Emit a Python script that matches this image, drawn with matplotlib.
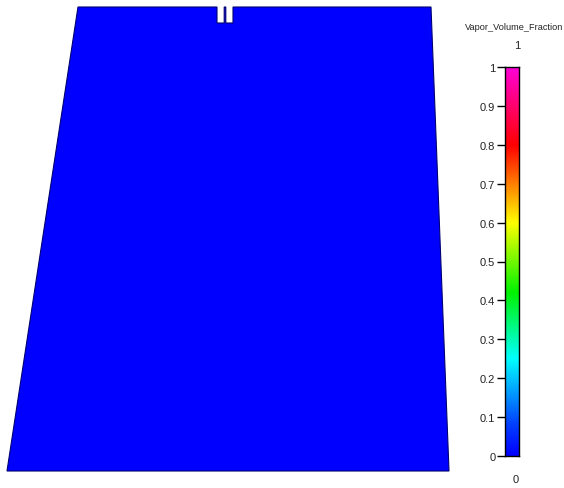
import numpy as np
import matplotlib
matplotlib.use("Agg")
import matplotlib.pyplot as plt
from matplotlib.colors import LinearSegmentedColormap, Normalize

# ---- data ----
field_name = "Vapor_Volume_Fraction"
field_value = 0.0            # vapor volume fraction everywhere in the domain
vmin, vmax = 0.0, 1.0
tick_values = [0, 0.1, 0.2, 0.3, 0.4, 0.5, 0.6, 0.7, 0.8, 0.9, 1]
tick_labels = ["0", "0.1", "0.2", "0.3", "0.4", "0.5", "0.6", "0.7", "0.8", "0.9", "1"]

# domain outline (tank cross-section, screen units)
domain_x = [7, 449, 431, 233, 233, 225.8, 225.8, 224.2, 224.2, 217, 217, 78, 7]
domain_y = [472, 472, 8, 8, 24, 24, 8, 8, 24, 24, 8, 8, 472]

# ---- colormap ----
cmap = LinearSegmentedColormap.from_list(
    "fluent_rainbow",
    [(0.00, (0.0, 0.0, 1.0)),
     (0.08, (0.0, 0.25, 1.0)),
     (0.25, (0.0, 1.0, 1.0)),
     (0.42, (0.0, 0.95, 0.0)),
     (0.60, (1.0, 1.0, 0.0)),
     (0.80, (1.0, 0.0, 0.0)),
     (1.00, (1.0, 0.0, 0.85))])
norm = Normalize(vmin, vmax)

FONT = ["Liberation Sans Narrow", "Liberation Sans", "DejaVu Sans"]

W, H = 564, 489
fig = plt.figure(figsize=(W / 100, H / 100), dpi=100)
ax = fig.add_axes([0, 0, 1, 1])
ax.set_xlim(0, W)
ax.set_ylim(H, 0)
ax.axis("off")

ax.fill(domain_x, domain_y, facecolor=cmap(norm(field_value)),
        edgecolor=(0, 0, 0.45), linewidth=0.8)

# ---- colorbar ----
cb_left, cb_right, cb_top, cb_bot = 505, 519, 68, 457
cax = fig.add_axes([cb_left / W, 1 - cb_bot / H, (cb_right - cb_left) / W, (cb_bot - cb_top) / H])
grad = np.linspace(vmin, vmax, 256).reshape(-1, 1)
cax.imshow(grad, cmap=cmap, norm=norm, aspect="auto", origin="lower",
           extent=[0, 1, vmin, vmax])
cax.set_xticks([])
cax.yaxis.tick_left()
cax.set_yticks(tick_values)
cax.set_yticklabels(tick_labels, fontsize=8, color="#222222", family=FONT)
cax.tick_params(axis="y", length=6, width=1, pad=1, color="black")
for s in cax.spines.values():
    s.set_linewidth(1)
    s.set_color("black")

fig.text(563 / W, 1 - 28 / H, field_name, ha="right", va="center", fontsize=6.6,
         color="#222222", family=FONT)
fig.text(517 / W, 1 - 46 / H, "1", ha="center", va="center", fontsize=8, color="#222222", family=FONT)
fig.text(516 / W, 1 - 480 / H, "0", ha="center", va="center", fontsize=8, color="#222222", family=FONT)

fig.savefig("out.png", dpi=100, facecolor="white")
